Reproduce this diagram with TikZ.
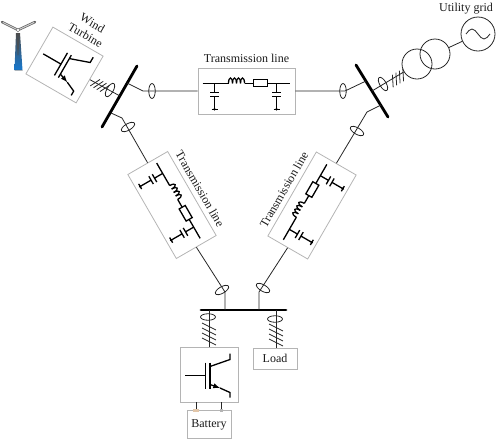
\documentclass[tikz,border=0pt]{standalone}
\usepackage{fontspec}
\setmainfont{Liberation Serif}
\usetikzlibrary{positioning,shapes.geometric,arrows.meta,arrows}
\definecolor{boxgray}{HTML}{B4B4B4}
\definecolor{wireg}{HTML}{262626}
\definecolor{towerblue}{HTML}{1678CF}
\tikzset{
lbl/.style={font=\fontsize{12}{14}\selectfont,text=black!90,inner sep=2pt},
title/.style={lbl,inner ysep=4.5pt},
boxs/.style={draw=boxgray,line width=0.8pt,inner sep=0pt,lbl},
linebox/.style={boxs,minimum width=97pt,minimum height=46pt},
conv/.style={boxs,minimum width=58pt,minimum height=55pt},
ct/.style={ellipse,draw=wireg,line width=0.8pt,minimum width=15pt,minimum height=6.5pt,inner sep=0pt},
ring/.style={circle,draw=wireg,line width=0.8pt,inner sep=0pt},
bus/.style={line width=2.8pt,line cap=round,black},
conn/.style={draw=wireg,line width=0.8pt},
cmp/.style={line width=1.3pt,black},
hatch/.pic={
  \foreach \s in {-7.5,-2.5,2.5,7.5}
    \draw[conn] (-7,\s-3.5) -- (7,\s+3.5);
  },
linefilter/.pic={
  \draw[cmp] (-44,-7.7) -- (-18,-7.7) (-2,-7.7) -- (7,-7.7) (21,-7.7) -- (43,-7.7);
  \foreach \i in {0,1,2,3}
    \draw[cmp] (-18+4*\i,-7.7) .. controls +(0,-7) and +(0,-7) .. ++(4,0);
  \draw[cmp] (7,-11.2) rectangle (21,-4.2);
  \foreach \c in {-32,30} {
    \draw[cmp] (\c,-7.7) -- (\c,1.7) (\c-4.5,1.7) -- (\c+4.5,1.7)
      (\c-4.5,5.7) -- (\c+4.5,5.7) (\c,5.7) -- (\c,18.3) (\c-3,18.3) -- (\c+3,18.3);
    \fill (\c,18.3) circle (1.4);
  }
  },
igbt/.pic={
  \draw[cmp] (-24,1) -- (-3.5,1) (-3.5,-12) -- (-3.5,14) (1,-12) -- (1,14);
  \draw[cmp] (1,-8) -- (21,-15) -- (21,-21);
  \draw[cmp,-latex] (1,10) -- (11,13.5);
  \draw[cmp] (11,13.5) -- (21,18) -- (21,23);
  },
turbine/.pic={
  \shade[top color=black!70,middle color=towerblue!85!black,bottom color=towerblue] (-2,3) -- (2,3) -- (4.5,40) -- (-3.5,40) -- cycle;
  \draw[black!70,line width=0.5pt] (-3.5,40) -- (4.5,40) (-1,3) -- (0,25) -- (1,3);
  \draw[line width=2.4pt,black!65,line cap=round] (-16,-8) -- (0,0) -- (17,-8);
  \draw[line width=1.1pt,black!20,line cap=round] (-15,-7.5) -- (0,0) -- (16,-7.5);
  \fill[white,draw=black!60,line width=0.4pt] (0,0) circle (1.8);
  }
}

\begin{document}
\begin{tikzpicture}[x=1pt,y=-1pt]
\useasboundingbox (0,0) rectangle (498,440);

\pic at (18,30) {turbine};

\node[boxs,rotate=-30,minimum width=58pt,minimum height=54pt] (wtbox) at (64.5,65) {};
\pic[rotate=-30] at (wtbox) {igbt};
\node[lbl,rotate=-30,align=center] (wtlabel) at (89,29) {Wind\\Turbine};

\node[linebox] (tltop) at (246.5,91) {};
\node[linebox,rotate=-60] (tlleft) at (172,205) {};
\node[linebox,rotate=60] (tlright) at (312,205.5) {};
\node[title,anchor=south] (titletop) at (tltop.north) {Transmission line};
\node[title,rotate=-60,anchor=south] (titleleft) at (tlleft.north) {Transmission line};
\node[title,rotate=60,anchor=south] (titleright) at (tlright.north) {Transmission line};
\pic at (tltop) {linefilter};
\pic[rotate=-60] at (tlleft) {linefilter};
\pic[rotate=60] at (tlright) {linefilter};

% buses
\coordinate (lbus1) at (137,66);
\coordinate (lbus2) at (102,127);
\coordinate (rbus1) at (356,65);
\coordinate (rbus2) at (388,117);
\coordinate (bbus1) at (201,310);
\coordinate (bbus2) at (286,310);
\draw[bus] (lbus1) -- (lbus2);
\draw[bus] (rbus1) -- (rbus2);
\draw[bus] (bbus1) -- (bbus2);

\coordinate (lbw) at (120,96);
\coordinate (lbt) at (127,83);
\coordinate (lbd) at (111,113);
\coordinate (rbt) at (366,81);
\coordinate (rbx) at (372,91);
\coordinate (rbd) at (381,105);
\coordinate (bbl) at (225,310);
\coordinate (bbr) at (259,310);
\coordinate (bbb) at (209,310);
\coordinate (bbo) at (276,310);

\draw[conn] (wtbox.east) -- (lbw);
\pic[rotate=60,scale=0.75] at (100,85.5) {hatch};
\node[ct,rotate=60] (ctw) at (110,90) {};

\coordinate (kt1) at (143,91);
\coordinate (kt2) at (345,91);
\coordinate (kl1) at (122,118);
\coordinate (kl2) at (225,292);
\coordinate (kr1) at (367,112);
\coordinate (kr2) at (259,292);
\draw[conn] (lbt) -- (kt1) -- (tltop.west);
\draw[conn] (tltop.east) -- (kt2) -- (rbt);
\draw[conn] (lbd) -- (kl1) -- (tlleft.west);
\draw[conn] (tlleft.east) -- (kl2) -- (bbl);
\draw[conn] (rbd) -- (kr1) -- (tlright.east);
\draw[conn] (tlright.west) -- (kr2) -- (bbr);

\node[ct,rotate=90] (ct1) at (152,91) {};
\node[ct,rotate=90] (ct2) at (343,91) {};
\node[ct,rotate=30] (ct3) at (128,127) {};
\node[ct,rotate=-30] (ct4) at (357,131) {};
\node[ct,rotate=30] (ct5) at (222,290) {};
\node[ct,rotate=-30] (ct6) at (263,288) {};
\node[ct,rotate=120] (ct7) at (383,84) {};
\node[ct] (ct8) at (208,317) {};
\node[ct] (ct9) at (275,319) {};

% grid side
\node[ring,minimum size=30pt] (tr1) at (417,64) {};
\node[ring,minimum size=30pt] (tr2) at (435,54) {};
\node[ring,minimum size=34pt] (src) at (478,34) {};
\node[lbl,above=0pt of src,xshift=-12pt] (gridlabel) {Utility grid};
\draw[conn] (rbx) -- (tr1);
\draw[conn] (tr2) -- (src);
\draw[conn] ([xshift=-12pt]src.center) sin ++(6,-5) cos ++(6,5) sin ++(6,5) cos ++(6,-5);
\pic[rotate=-60,scale=0.8] at (398,78) {hatch};

% battery and load
\node[conv] (conv1) at (209,374.5) {};
\pic at (conv1) {igbt};
\node[boxs,below=8pt of conv1,minimum width=44pt,minimum height=28pt] (batt) {Battery};
\node[boxs,minimum width=44pt,minimum height=21pt] (load) at (275,358.5) {Load};
\draw[conn] (bbb) -- (conv1.north);
\draw[conn] (bbo) -- (load.north -| bbo);
\pic at (209,334) {hatch};
\pic at (276,335) {hatch};

\coordinate (bat1) at (batt.north -| 196,0);
\coordinate (bat2) at (batt.north -| 221,0);
\coordinate (cv1) at (conv1.south -| 196,0);
\coordinate (cv2) at (conv1.south -| 221,0);
\draw[conn] (cv1) -- (bat1);
\draw[conn] (cv2) -- (bat2);
\node[fill=brown!45,inner sep=0pt,minimum width=6pt,minimum height=2.5pt] (pad1) at (bat1) {};
\node[fill=boxgray,inner sep=0pt,minimum width=3pt,minimum height=2.5pt] (pad2) at (bat2) {};
\end{tikzpicture}
\end{document}
